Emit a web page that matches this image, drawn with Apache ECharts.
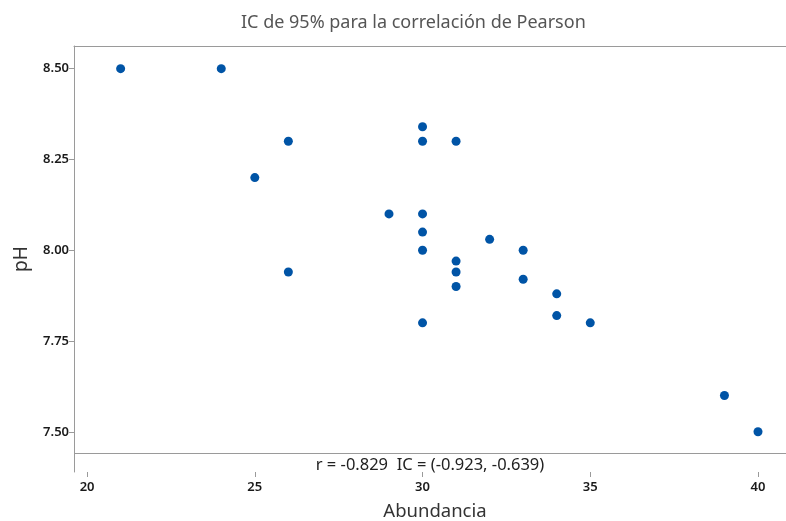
<!DOCTYPE html>
<html>
<head>
<meta charset="utf-8">
<script src="https://cdn.jsdelivr.net/npm/echarts@6/dist/echarts.min.js"></script>
<style>
  html, body { margin: 0; padding: 0; background: #fff; }
  #chart { width: 786px; height: 521px; }
</style>
</head>
<body>
<div id="chart"></div>
<script>
// Abundancia vs pH
const abundancia = [21, 24, 26, 25, 26, 29, 30, 30, 31, 30, 30, 30, 30, 31, 31, 31, 32, 33, 33, 34, 34, 35, 39, 40]
const ph = [8.50, 8.50, 8.30, 8.20, 7.94, 8.10, 8.34, 8.30, 8.30, 8.10, 8.05, 8.00, 7.80, 7.97, 7.94, 7.90, 8.03, 8.00, 7.92, 7.88, 7.82, 7.80, 7.60, 7.50]
const xTicks = [20, 25, 30, 35, 40]
const yTicks = [7.5, 7.75, 8.0, 8.25, 8.5]
const statsText = 'r = -0.829  IC = (-0.923, -0.639)'

const font = 'Noto Sans'
const frameColor = '#9a9a9a'

const myChart = echarts.init(document.getElementById('chart'))

const option = {
  backgroundColor: '#fff',
  animation: false,
  title: {
    text: 'IC de 95% para la correlación de Pearson',
    left: 236,
    top: 9,
    textStyle: { fontFamily: font, fontSize: 18, fontWeight: 'normal', color: '#555' }
  },
  grid: { left: 74, right: 0, top: 46, bottom: 49, outerBoundsMode: 'none' },
  xAxis: [
    {
      type: 'value',
      min: 19.61,
      max: 40.835,
      name: 'Abundancia',
      nameLocation: 'middle',
      nameGap: 30,
      nameTextStyle: { fontFamily: font, fontSize: 18.5, color: '#333', padding: [0, 0, 0, 10] },
      axisLine: { show: false },
      axisTick: { show: true, length: 5, lineStyle: { color: frameColor }, customValues: xTicks },
      axisLabel: { fontFamily: font, fontSize: 13, fontWeight: 600, color: '#1a1a1a', margin: 9, customValues: xTicks },
      splitLine: { show: false }
    },
    {
      type: 'value',
      position: 'top',
      min: 19.61,
      max: 40.835,
      axisLine: { show: true, lineStyle: { color: frameColor } },
      axisTick: { show: false },
      axisLabel: { show: false },
      splitLine: { show: false }
    }
  ],
  yAxis: {
    type: 'value',
    min: 7.3893,
    max: 8.5624,
    name: 'pH',
    nameLocation: 'middle',
    nameGap: 43,
    nameTextStyle: { fontFamily: font, fontSize: 19, color: '#333' },
    axisLine: { show: true, lineStyle: { color: frameColor } },
    axisTick: { show: true, length: 5, lineStyle: { color: frameColor }, customValues: yTicks },
    axisLabel: {
      fontFamily: font, fontSize: 13, fontWeight: 600, color: '#1a1a1a', margin: 5,
      customValues: yTicks,
      formatter: (v) => v.toFixed(2)
    },
    splitLine: { show: false }
  },
  series: [
    {
      type: 'scatter',
      data: abundancia.map((a, i) => [a, ph[i]]),
      symbolSize: 9,
      itemStyle: { color: '#0054a6', opacity: 1 },
      markLine: {
        silent: true,
        symbol: 'none',
        lineStyle: { color: frameColor, type: 'solid', width: 1 },
        label: {
          show: true,
          position: 'insideMiddleBottom',
          formatter: statsText,
          fontFamily: font,
          fontSize: 16.5,
          color: '#222',
          distance: 3
        },
        data: [{ yAxis: 7.4415 }]
      }
    }
  ]
}

myChart.setOption(option)
window.addEventListener('resize', () => myChart.resize())
</script>
</body>
</html>
